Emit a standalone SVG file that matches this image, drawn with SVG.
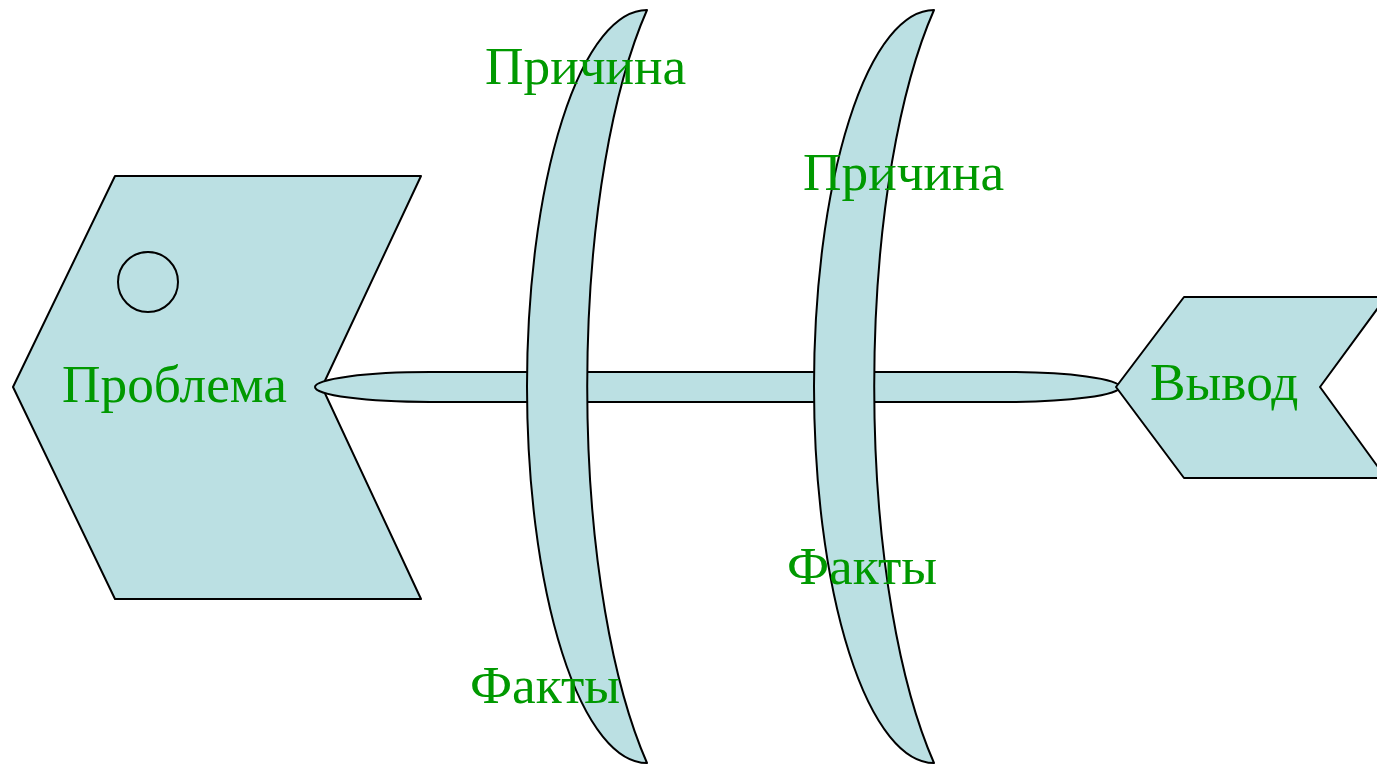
<svg xmlns="http://www.w3.org/2000/svg" width="1377" height="764" viewBox="0 0 1377 764">
<style>
.s{fill:#BBE0E3;stroke:#000;stroke-width:2;stroke-linejoin:round}
.t{font-family:"Liberation Serif","Times New Roman",serif;font-size:53.3px;fill:#009900}
</style>
<rect width="1377" height="764" fill="#fff"/>
<g id="problem">
<polygon class="s" points="115,176 421,176 322,387 421,599 115,599 13,387"/>
<circle class="s" cx="148" cy="282" r="30"/>
</g>
<g id="connectors">
<path id="spine" class="s" d="M430,372 H1005 A115 15 0 0 1 1005,402 H430 A115 15 0 0 1 430,372 Z"/>
</g>
<g id="bone1">
<path class="s" d="M647,10 A138 457 0 0 0 647,763 A120 376.5 0 0 1 647,10 Z"/>
</g>
<g id="bone2">
<path class="s" d="M934,10 A138 457 0 0 0 934,763 A120 376.5 0 0 1 934,10 Z"/>
</g>
<g id="conclusion">
<polygon class="s" points="1184,297 1386,297 1320,387 1386,478 1184,478 1116,387"/>
</g>
<g id="labels">
<text class="t" x="62" y="402">Проблема</text>
<text class="t" x="485" y="84">Причина</text>
<text class="t" x="803" y="190">Причина</text>
<text class="t" x="470" y="703">Факты</text>
<text class="t" x="787" y="584">Факты</text>
<text class="t" x="1150" y="400">Вывод</text>
</g>
</svg>
